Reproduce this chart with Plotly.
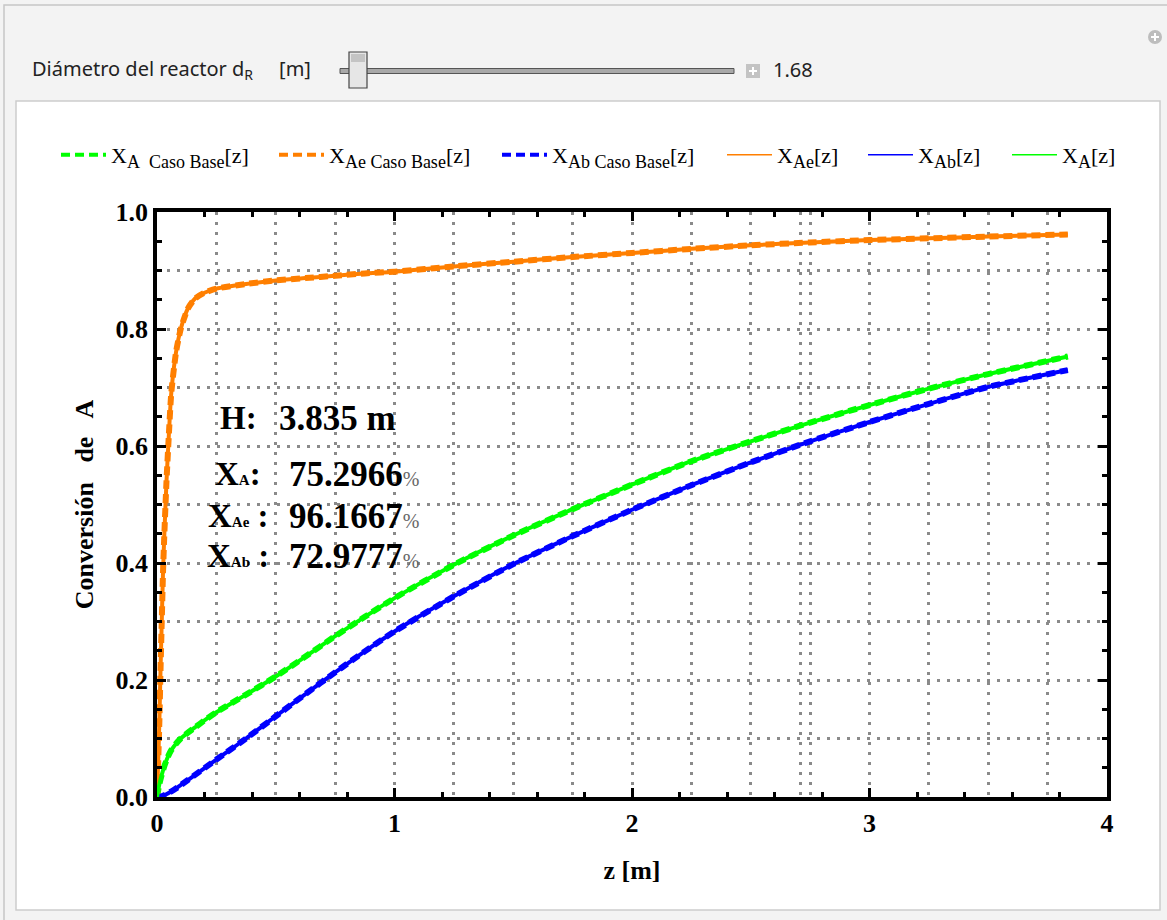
import plotly.graph_objects as go

# ---------------- data ----------------
z_ae = [0, 0.005, 0.01, 0.015, 0.02, 0.025, 0.03, 0.04, 0.05, 0.06, 0.08, 0.10, 0.13, 0.16,
        0.20, 0.25, 0.375, 0.5, 0.625, 0.75, 0.875, 1.0, 1.25, 1.5, 1.75, 2.0, 2.25, 2.5,
        2.75, 3.0, 3.25, 3.5, 3.835]
x_ae = [0, 0.06, 0.13, 0.22, 0.30, 0.38, 0.44, 0.54, 0.62, 0.69, 0.76, 0.80, 0.835, 0.852,
        0.862, 0.869, 0.877, 0.883, 0.887, 0.891, 0.895, 0.898, 0.907, 0.915, 0.923, 0.930,
        0.937, 0.943, 0.948, 0.952, 0.955, 0.958, 0.9617]

z_a = [0, 0.01, 0.02, 0.032, 0.045, 0.06, 0.08, 0.10, 0.13, 0.16, 0.20, 0.25, 0.375, 0.5,
       0.625, 0.75, 0.875, 1.0, 1.25, 1.5, 1.75, 2.0, 2.25, 2.5, 2.75, 3.0, 3.25, 3.5, 3.835]
x_a = [0, 0.022, 0.038, 0.054, 0.068, 0.080, 0.091, 0.100, 0.110, 0.119, 0.131, 0.145, 0.175,
       0.206, 0.240, 0.275, 0.308, 0.340, 0.397, 0.447, 0.492, 0.534, 0.574, 0.608, 0.640,
       0.670, 0.698, 0.723, 0.7530]

z_ab = [0, 0.02, 0.07, 0.13, 0.25, 0.375, 0.5, 0.625, 0.75, 0.875, 1.0, 1.25, 1.5, 1.75,
        2.0, 2.25, 2.5, 2.75, 3.0, 3.25, 3.5, 3.835]
x_ab = [0, 0.001, 0.012, 0.029, 0.064, 0.100, 0.138, 0.176, 0.213, 0.249, 0.283, 0.343,
        0.398, 0.446, 0.491, 0.533, 0.572, 0.608, 0.641, 0.672, 0.701, 0.7298]

x_ticks = [0, 1, 2, 3, 4]
y_ticks = [0.0, 0.2, 0.4, 0.6, 0.8, 1.0]
grid_x = [0.25, 0.5, 0.75, 1.0, 1.25, 1.5, 1.75, 2.0, 2.25, 2.5, 2.71, 2.75, 3.0, 3.25, 3.5, 3.75]
grid_y = [0.1, 0.2, 0.3, 0.4, 0.5, 0.6, 0.7, 0.8, 0.9]

SUBL = "<sub><span style='font-size:18px'>%s</span></sub>"
legend_names = [
    "X" + SUBL % "A\u00a0 Caso Base" + "[z]",
    "X" + SUBL % "Ae Caso Base" + "[z]",
    "X" + SUBL % "Ab Caso Base" + "[z]",
    "X" + SUBL % "Ae" + "[z]",
    "X" + SUBL % "Ab" + "[z]",
    "X" + SUBL % "A" + "[z]",
]
H_value = "3.835 m"
XA_value = "75.2966"
XAe_value = "96.1667"
XAb_value = "72.9777"
slider_label = "Diámetro del reactor d<sub>R</sub>\u00a0\u00a0\u00a0\u00a0\u00a0[m]"
slider_value = "1.68"

GREEN = "#00ff00"
ORANGE = "#ff7f00"
BLUE = "#0000ff"
SERIF = "Liberation Serif, Times New Roman, serif"
SANS = "Noto Sans, Open Sans, sans-serif"

# ---------------- geometry ----------------
W, H = 1167, 920
ML, MR, MT, MB = 157, 60, 212, 123
PW, PH = W - ML - MR, H - MT - MB


def px(xp):
    return (xp - ML) / PW


def py(yp):
    return (MT + PH - yp) / PH


fig = go.Figure()

# thick dashed base-case curves
for zz, xx, c in [(z_a, x_a, GREEN), (z_ae, x_ae, ORANGE), (z_ab, x_ab, BLUE)]:
    fig.add_trace(go.Scatter(x=zz, y=xx, mode="lines", showlegend=False, hoverinfo="skip",
                             line=dict(color=c, width=6, dash="9px,5px", shape="spline",
                                       smoothing=0.6)))
# solid curves on top
for zz, xx, c in [(z_ae, x_ae, ORANGE), (z_ab, x_ab, BLUE), (z_a, x_a, GREEN)]:
    fig.add_trace(go.Scatter(x=zz, y=xx, mode="lines", showlegend=False,
                             line=dict(color=c, width=4, shape="spline", smoothing=0.6)))

# legend entries, one legend box per entry
leg_styles = [(GREEN, 4, "9px,5px"), (ORANGE, 4, "9px,5px"), (BLUE, 4, "9px,5px"),
              (ORANGE, 1.5, "solid"), (BLUE, 1.5, "solid"), (GREEN, 1.5, "solid")]
leg_starts = [61, 279, 502, 727, 868, 1012]
leg_ids = ["legend", "legend2", "legend3", "legend4", "legend5", "legend6"]
for name, (c, w, d), lid in zip(legend_names, leg_styles, leg_ids):
    fig.add_trace(go.Scatter(x=[None], y=[None], mode="lines", name=name, legend=lid,
                             line=dict(color=c, width=w, dash=d)))

# dummy trace for the grid overlay axes
fig.add_trace(go.Scatter(x=[None], y=[None], xaxis="x2", yaxis="y2", showlegend=False,
                         hoverinfo="skip"))

tickfont = dict(family=SERIF, size=26, color="black", weight="bold")
axis_common = dict(showline=True, linecolor="black", linewidth=3.5, mirror="allticks",
                   ticks="inside", ticklen=9, tickwidth=3, tickcolor="black",
                   showgrid=False, zeroline=False, tickfont=tickfont)

fig.update_layout(
    width=W, height=H,
    margin=dict(l=ML, r=MR, t=MT, b=MB, autoexpand=False),
    paper_bgcolor="#f3f3f3",
    plot_bgcolor="white",
    xaxis=dict(range=[0, 4], tickvals=x_ticks, ticktext=[str(v) for v in x_ticks],
               minor=dict(dtick=0.2, ticks="inside", ticklen=5, tickwidth=2.5,
                          tickcolor="black", showgrid=False),
               title=dict(text="<b>z [m]</b>", font=dict(family=SERIF, size=26, color="black"),
                          standoff=25),
               ticklabelstandoff=0,
               **axis_common),
    yaxis=dict(range=[0, 1.0], tickvals=y_ticks, ticktext=[f"{v:.1f}" for v in y_ticks],
               minor=dict(dtick=0.05, ticks="inside", ticklen=5, tickwidth=2.5,
                          tickcolor="black", showgrid=False),
               title=dict(text="<b>Conversión\u00a0\u00a0 de\u00a0\u00a0 A</b>",
                          font=dict(family=SERIF, size=26, color="black"), standoff=15),
               ticklabelstandoff=0,
               **axis_common),
    xaxis2=dict(overlaying="x", range=[0, 4], tickvals=grid_x, showticklabels=False,
                ticks="", showline=False, zeroline=False, showgrid=True,
                gridcolor="#8a8a8a", gridwidth=2.5, griddash="2.5px,7.5px", anchor="y2"),
    yaxis2=dict(overlaying="y", range=[0, 1.0], tickvals=grid_y, showticklabels=False,
                ticks="", showline=False, zeroline=False, showgrid=True,
                gridcolor="#8a8a8a", gridwidth=2.5, griddash="2.5px,7.5px", anchor="x2"),
    showlegend=True,
)
for lid, xs in zip(leg_ids, leg_starts):
    fig.update_layout({lid: dict(orientation="h", x=px(xs - 5), xanchor="left", y=py(155),
                                 yanchor="middle", itemwidth=45,
                                 font=dict(family=SERIF, size=22, color="black"),
                                 bgcolor="rgba(0,0,0,0)")})

# ---------------- panel decoration ----------------
shapes = [
    dict(type="rect", xref="paper", yref="paper", x0=px(4), x1=px(1175), y0=py(5), y1=py(930),
         line=dict(color="#c6c6c6", width=1.5), fillcolor="rgba(0,0,0,0)", layer="below"),
    dict(type="rect", xref="paper", yref="paper", x0=px(16), x1=px(1160), y0=py(101),
         y1=py(910), line=dict(color="#cdcdcd", width=1.5), fillcolor="white", layer="below"),
    # slider rail
    dict(type="rect", xref="paper", yref="paper", x0=px(340), x1=px(734), y0=py(68.5),
         y1=py(73.5), line=dict(color="#555555", width=1), fillcolor="#a8a8a8"),
    # slider handle
    dict(type="rect", xref="paper", yref="paper", x0=px(349), x1=px(367), y0=py(52),
         y1=py(88), line=dict(color="#444444", width=1.2), fillcolor="#e6e6e6"),
    dict(type="rect", xref="paper", yref="paper", x0=px(351), x1=px(365), y0=py(54),
         y1=py(62), line=dict(width=0), fillcolor="#c4c4c4"),
    # plus square
    dict(type="rect", xref="paper", yref="paper", x0=px(746), x1=px(760), y0=py(64),
         y1=py(78), line=dict(width=0), fillcolor="#c3c3c3"),
    dict(type="line", xref="paper", yref="paper", x0=px(749), x1=px(757), y0=py(71),
         y1=py(71), line=dict(color="white", width=2)),
    dict(type="line", xref="paper", yref="paper", x0=px(753), x1=px(753), y0=py(67),
         y1=py(75), line=dict(color="white", width=2)),
    # circle plus (top right)
    dict(type="circle", xref="paper", yref="paper", x0=px(1148), x1=px(1162), y0=py(30),
         y1=py(44), line=dict(width=0), fillcolor="#bdbdbd"),
    dict(type="line", xref="paper", yref="paper", x0=px(1151), x1=px(1159), y0=py(37),
         y1=py(37), line=dict(color="white", width=2)),
    dict(type="line", xref="paper", yref="paper", x0=px(1155), x1=px(1155), y0=py(33),
         y1=py(41), line=dict(color="white", width=2)),
]
fig.update_layout(shapes=shapes)

annots = [
    dict(text=slider_label, x=px(30), y=py(70), xanchor="left", yanchor="middle",
         font=dict(family=SANS, size=20, color="#222222")),
    dict(text=slider_value, x=px(771), y=py(70), xanchor="left", yanchor="middle",
         font=dict(family=SANS, size=20, color="#222222")),
]
lab_font = dict(family=SERIF, size=33, color="black")
val_font = dict(family=SERIF, size=35, color="black")
sub = "<span style='font-size:15px'>%s</span>"
pct = "<span style='font-size:20px;font-weight:normal;color:#666666'>%</span>"
rows = [
    ("<b>H:</b>", "<b>" + H_value + "</b>", 418, 277),
    ("<b>X" + sub % "A" + ":</b>", "<b>" + XA_value + "</b>" + pct, 474, 287),
    ("<b>X" + sub % "Ae" + " :</b>", "<b>" + XAe_value + "</b>" + pct, 516, 287),
    ("<b>X" + sub % "Ab" + " :</b>", "<b>" + XAb_value + "</b>" + pct, 556, 287),
]
for lab, val, yy, xv in rows:
    annots.append(dict(text=lab, x=px(238), y=py(yy), xanchor="center", yanchor="middle",
                       font=lab_font))
    annots.append(dict(text=val, x=px(xv), y=py(yy), xanchor="left", yanchor="middle",
                       font=val_font))
for a in annots:
    a.update(xref="paper", yref="paper", showarrow=False)
fig.update_layout(annotations=annots)

fig.write_html("out.html", config={"displayModeBar": False},
               post_script="document.body.style.margin='0';")
